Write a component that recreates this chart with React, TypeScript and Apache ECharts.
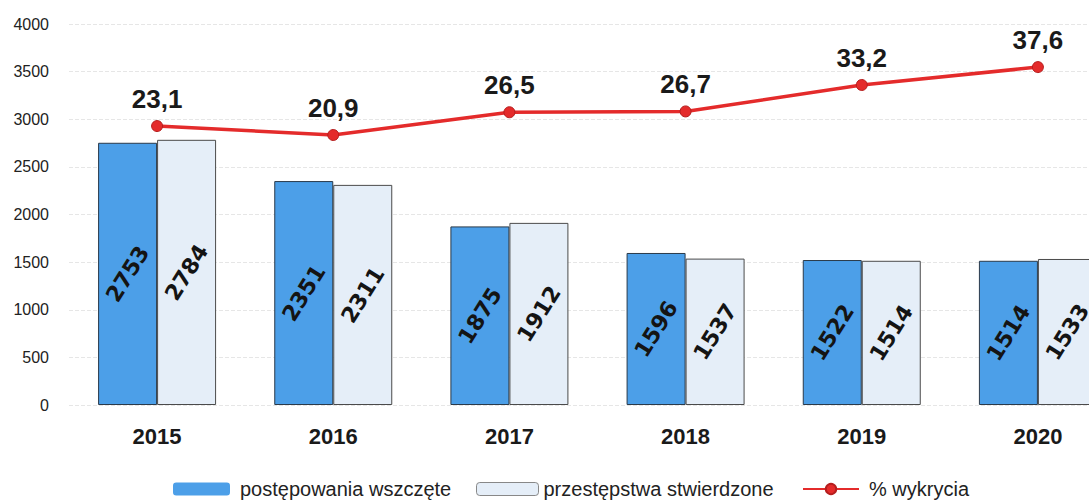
import React, { useEffect, useRef } from "react";
import * as echarts from "echarts";

const years = ["2015", "2016", "2017", "2018", "2019", "2020"];
const wszczete = [2753, 2351, 1875, 1596, 1522, 1514];
const stwierdzone = [2784, 2311, 1912, 1537, 1514, 1533];
const wykrycia = [23.1, 20.9, 26.5, 26.7, 33.2, 37.6];
const yTicks = [0, 500, 1000, 1500, 2000, 2500, 3000, 3500, 4000];

export default function App() {
  const ref = useRef<HTMLDivElement>(null);
  useEffect(() => {
    if (!ref.current) return;
    const chart = echarts.init(ref.current, null, { renderer: "svg" });
    const barLabel = {
      show: true,
      position: "inside",
      rotate: 58,
      fontFamily: "DejaVu Sans",
      fontWeight: "bold",
      fontSize: 22,
      color: "#141414",
    };
    const legendText = { fontFamily: "Liberation Sans", fontSize: 20, color: "#222" };
    chart.setOption({
      animation: false,
      backgroundColor: "#ffffff",
      grid: { left: 69, right: -37, top: 24, bottom: 96, outerBoundsMode: "none", containLabel: false },
      legend: [
        {
          data: ["postępowania wszczęte"],
          left: 168,
          top: 474,
          itemWidth: 57,
          itemHeight: 13,
          itemStyle: { borderWidth: 0 },
          textStyle: { ...legendText, padding: [0, 0, 0, 5] },
        },
        {
          data: ["przestępstwa stwierdzone"],
          left: 471,
          top: 474,
          itemWidth: 62,
          itemHeight: 13,
          itemStyle: { borderColor: "#888", borderWidth: 1 },
          textStyle: { ...legendText },
        },
        {
          data: ["% wykrycia"],
          left: 797,
          top: 474,
          itemWidth: 56,
          itemHeight: 13,
          textStyle: { ...legendText, padding: [0, 0, 0, 5] },
        },
      ],
      xAxis: {
        type: "category",
        data: years,
        axisLine: { show: false },
        axisTick: { show: false },
        axisLabel: {
          margin: 20,
          fontFamily: "Liberation Sans",
          fontWeight: "bold",
          fontSize: 22,
          color: "#1a1a1a",
        },
      },
      yAxis: [
        {
          type: "value",
          min: yTicks[0],
          max: yTicks[yTicks.length - 1],
          interval: 500,
          axisLine: { show: false },
          axisTick: { show: false },
          axisLabel: {
            margin: 20,
            fontFamily: "Liberation Sans",
            fontSize: 16,
            color: "#222",
            formatter: (v: number) => String(v),
          },
          splitLine: { show: true, lineStyle: { color: "#e6e6e6", type: "dashed", width: 1 } },
        },
        {
          type: "value",
          min: -45.5,
          max: 48.2,
          show: false,
          splitLine: { show: false },
        },
      ],
      series: [
        {
          name: "postępowania wszczęte",
          type: "bar",
          data: wszczete,
          barWidth: 59,
          barGap: "0%",
          itemStyle: { color: "#4c9fe8", borderColor: "#2a3a4a", borderWidth: 1 },
          label: barLabel,
        },
        {
          name: "przestępstwa stwierdzone",
          type: "bar",
          data: stwierdzone,
          barWidth: 59,
          barGap: "0%",
          itemStyle: { color: "#e5eef8", borderColor: "#4a4a4a", borderWidth: 1 },
          label: barLabel,
        },
        {
          name: "% wykrycia",
          type: "line",
          yAxisIndex: 1,
          data: wykrycia,
          symbol: "circle",
          symbolSize: 11,
          lineStyle: { color: "#e42b2b", width: 3.5 },
          itemStyle: { color: "#e42b2b", borderColor: "#b51e1e", borderWidth: 1 },
          label: {
            show: true,
            position: "top",
            distance: 8,
            fontFamily: "Liberation Sans",
            fontWeight: "bold",
            fontSize: 26,
            color: "#1a1a1a",
            formatter: (p: any) => String(p.value).replace(".", ","),
          },
          z: 5,
        },
      ],
    });
    return () => chart.dispose();
  }, []);
  return (
    <div
      ref={ref}
      style={{ position: "absolute", left: 0, top: 0, width: 1089, height: 501, overflow: "hidden" }}
    />
  );
}
